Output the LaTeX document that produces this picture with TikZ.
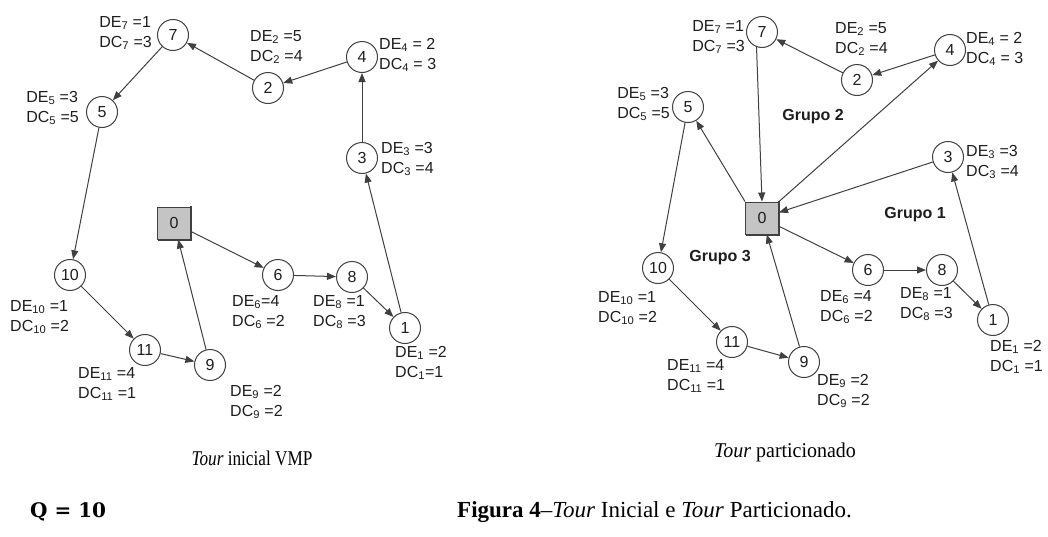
\documentclass[tikz,border=0pt]{standalone}
\usepackage{fontspec}
\setmainfont{Liberation Serif}
\newfontfamily\labf{Liberation Sans}
\newfontfamily\qfont{DejaVu Serif}
\usetikzlibrary{arrows.meta}
\definecolor{linecol}{HTML}{404040}
\definecolor{txtcol}{HTML}{1E1E1E}
\definecolor{depotfill}{HTML}{C4C4C4}
\tikzset{
  city/.style={circle,draw=linecol,line width=1pt,minimum size=31pt,inner sep=0pt,
    font=\labf\fontsize{16}{18}\selectfont,text=txtcol},
  depot/.style={rectangle,draw=linecol,line width=1pt,fill=depotfill,minimum width=33pt,
    minimum height=32pt,inner sep=0pt,font=\labf\fontsize{16}{18}\selectfont,text=txtcol},
  lab/.style={align=left,inner sep=0pt,font=\labf\fontsize{16}{20}\selectfont,text=txtcol},
  grp/.style={inner sep=0pt,font=\labf\bfseries\fontsize{16}{18}\selectfont,text=txtcol},
  arr/.style={draw=linecol,line width=1pt,-{Triangle[length=9pt,width=7pt]}},
  captext/.style={inner sep=0pt,font=\fontsize{21}{24}\selectfont},
}
\newcommand{\sub}[1]{\textsubscript{#1}}
\begin{document}
\begin{tikzpicture}[x=1pt,y=-1pt]
\path[use as bounding box,fill=white] (0,0) rectangle (1048,536);

% ---------------- left: Tour inicial VMP ----------------
\node[depot] (l0) at (174,223) {0};
\node[city] (l1) at (405,328) {1};
\node[city] (l2) at (268,88) {2};
\node[city] (l3) at (362,158) {3};
\node[city] (l4) at (362,57) {4};
\node[city] (l5) at (102,112) {5};
\node[city] (l6) at (278,275) {6};
\node[city] (l7) at (173,35) {7};
\node[city] (l8) at (352,277) {8};
\node[city] (l9) at (210,365) {9};
\node[city] (l10) at (70,275) {10};
\node[city] (l11) at (145,350) {11};
\draw[linecol,line width=2pt] ([xshift=1pt]l0.south west) -- (l0.south east) -- ([yshift=1pt]l0.north east);

\node[lab,anchor=east] (tl7) at (152,33) {DE\sub{7} =1\\DC\sub{7} =3};
\node[lab,anchor=east] (tl5) at (79,108) {DE\sub{5} =3\\DC\sub{5} =5};
\node[lab,anchor=west] (tl2) at (250,47) {DE\sub{2} =5\\DC\sub{2} =4};
\node[lab,anchor=west] (tl4) at (379,55) {DE\sub{4} = 2\\DC\sub{4} = 3};
\node[lab,anchor=west] (tl3) at (381,159) {DE\sub{3} =3\\DC\sub{3} =4};
\node[lab,anchor=west] (tl10) at (10,317) {DE\sub{10} =1\\DC\sub{10} =2};
\node[lab,anchor=west] (tl6) at (232,312) {DE\sub{6}=4\\DC\sub{6} =2};
\node[lab,anchor=west] (tl8) at (313,312) {DE\sub{8} =1\\DC\sub{8} =3};
\node[lab,anchor=west] (tl1) at (395,363) {DE\sub{1} =2\\DC\sub{1}=1};
\node[lab,anchor=west] (tl11) at (78,384) {DE\sub{11} =4\\DC\sub{11} =1};
\node[lab,anchor=west] (tl9) at (230,402) {DE\sub{9} =2\\DC\sub{9} =2};

\draw[arr] (l0) -- (l6);
\draw[arr] (l6) -- (l8);
\draw[arr] (l8) -- (l1);
\draw[arr] (l1) -- (l3);
\draw[arr] (l3) -- (l4);
\draw[arr] (l4) -- (l2);
\draw[arr] (l2) -- (l7);
\draw[arr] (l7) -- (l5);
\draw[arr] (l5) -- (l10);
\draw[arr] (l10) -- (l11);
\draw[arr] (l11) -- (l9);
\draw[arr] (l9) -- (l0);

\node[captext] (capl) at (252,458) {\scalebox{0.82}[1]{\textit{Tour} inicial VMP}};

% ---------------- right: Tour particionado ----------------
\node[depot] (r0) at (762,218) {0};
\node[city] (r1) at (993,320) {1};
\node[city] (r2) at (857,80) {2};
\node[city] (r3) at (948,157) {3};
\node[city] (r4) at (950,50) {4};
\node[city] (r5) at (688,107) {5};
\node[city] (r6) at (868,270) {6};
\node[city] (r7) at (762,32) {7};
\node[city] (r8) at (942,270) {8};
\node[city] (r9) at (804,362) {9};
\node[city] (r10) at (658,268) {10};
\node[city] (r11) at (732,342) {11};
\draw[linecol,line width=2pt] ([xshift=1pt]r0.south west) -- (r0.south east) -- ([yshift=1pt]r0.north east);

\node[lab,anchor=east] (tr7) at (745,37) {DE\sub{7} =1\\DC\sub{7} =3};
\node[lab,anchor=east] (tr5) at (670,104) {DE\sub{5} =3\\DC\sub{5} =5};
\node[lab,anchor=west] (tr2) at (835,39) {DE\sub{2} =5\\DC\sub{2} =4};
\node[lab,anchor=west] (tr4) at (966,49) {DE\sub{4} = 2\\DC\sub{4} = 3};
\node[lab,anchor=west] (tr3) at (966,162) {DE\sub{3} =3\\DC\sub{3} =4};
\node[lab,anchor=west] (tr10) at (598,308) {DE\sub{10} =1\\DC\sub{10} =2};
\node[lab,anchor=west] (tr6) at (820,307) {DE\sub{6} =4\\DC\sub{6} =2};
\node[lab,anchor=west] (tr8) at (900,304) {DE\sub{8} =1\\DC\sub{8} =3};
\node[lab,anchor=west] (tr1) at (990,357) {DE\sub{1} =2\\DC\sub{1} =1};
\node[lab,anchor=west] (tr11) at (667,376) {DE\sub{11} =4\\DC\sub{11} =1};
\node[lab,anchor=west] (tr9) at (817,391) {DE\sub{9} =2\\DC\sub{9} =2};

\node[grp] (g2) at (813,117) {Grupo 2};
\node[grp] (g1) at (915,215) {Grupo 1};
\node[grp] (g3) at (720,258) {Grupo 3};

% Grupo 1
\draw[arr] (r0) -- (r6);
\draw[arr] (r6) -- (r8);
\draw[arr] (r8) -- (r1);
\draw[arr] (r1) -- (r3);
\draw[arr] (r3) -- (r0);
% Grupo 2
\draw[arr] (r0.north east) -- (r4);
\draw[arr] (r4) -- (r2);
\draw[arr] (r2) -- (r7);
\draw[arr] (r7.250) -- (r0.north);
% Grupo 3
\draw[arr] (r0.north west) -- (r5);
\draw[arr] (r5) -- (r10);
\draw[arr] (r10) -- (r11);
\draw[arr] (r11) -- (r9);
\draw[arr] (r9) -- (r0);

\node[captext] (capr) at (785,452) {\scalebox{0.95}[1]{\textit{Tour} particionado}};

% ---------------- bottom ----------------
\node[inner sep=0pt,anchor=west,font=\qfont\bfseries\fontsize{20}{22}\selectfont] (q) at (30,512) {Q = 10};
\node[inner sep=0pt,anchor=west,font=\fontsize{23}{26}\selectfont] (fig) at (457,512) {\textbf{Figura 4}--\textit{Tour} Inicial e \textit{Tour} Particionado.};
\end{tikzpicture}
\end{document}
